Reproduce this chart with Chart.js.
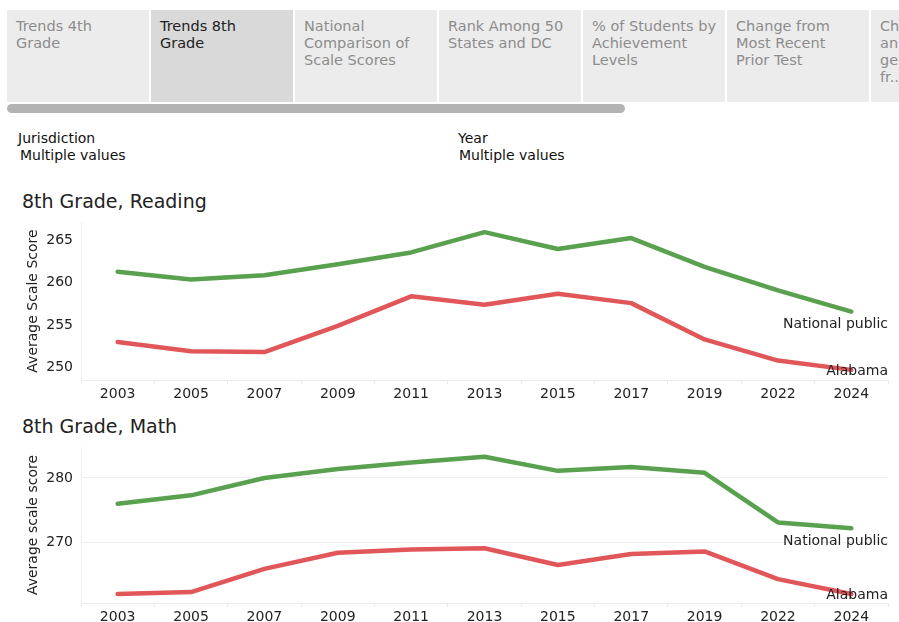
<!DOCTYPE html>
<html>
<head>
<meta charset="utf-8">
<script src="https://cdn.jsdelivr.net/npm/chart.js@4"></script>
<style>
  body { margin: 0; width: 899px; height: 622px; overflow: hidden; background: #fff; font-family: "DejaVu Sans", sans-serif; position: relative; }
  .tab { position: absolute; top: 10px; height: 92px; width: 142px; background: #ececec; color: #8c8c8c; font-size: 14.5px; line-height: 17px; padding: 8px 0 0 9px; box-sizing: border-box; overflow: hidden; }
  .tab.sel { background: #d9d9d9; color: #222; }
  .bar { position: absolute; left: 7px; top: 104px; width: 618px; height: 9px; background: #b3b3b3; border-radius: 5px; }
  .flt { position: absolute; font-size: 14px; line-height: 17px; color: #111; }
  .ttl { position: absolute; left: 22px; font-size: 19px; line-height: 22px; color: #222; }
  canvas { position: absolute; left: 0; }
</style>
</head>
<body>
<div class="tab" style="left:7px">Trends 4th<br>Grade</div>
<div class="tab sel" style="left:151px">Trends 8th<br>Grade</div>
<div class="tab" style="left:295px">National<br>Comparison of<br>Scale Scores</div>
<div class="tab" style="left:439px">Rank Among 50<br>States and DC</div>
<div class="tab" style="left:583px">% of Students by<br>Achievement<br>Levels</div>
<div class="tab" style="left:727px">Change from<br>Most Recent<br>Prior Test</div>
<div class="tab" style="left:871px; width:29px">Ch<br>an<br>ge<br>fr..</div>
<div class="bar"></div>

<div class="flt" style="left:18px; top:130px">Jurisdiction</div>
<div class="flt" style="left:20px; top:147px">Multiple values</div>
<div class="flt" style="left:458px; top:130px">Year</div>
<div class="flt" style="left:459px; top:147px">Multiple values</div>

<div class="ttl" style="top:190px">8th Grade, Reading</div>
<canvas id="readChart" style="top:212px" width="899" height="195"></canvas>
<div class="ttl" style="top:415px">8th Grade, Math</div>
<canvas id="mathChart" style="top:437px" width="899" height="193"></canvas>

<script>
// Datos
const years = ["2003", "2005", "2007", "2009", "2011", "2013", "2015", "2017", "2019", "2022", "2024"];
const readNational = [261.3, 260.4, 260.9, 262.2, 263.6, 266.0, 264.0, 265.3, 261.9, 259.1, 256.6];
const readAlabama = [253.0, 251.9, 251.8, 254.9, 258.4, 257.4, 258.7, 257.6, 253.3, 250.8, 249.7];
const mathNational = [276.0, 277.3, 280.0, 281.4, 282.4, 283.3, 281.1, 281.7, 280.8, 273.1, 272.2];
const mathAlabama = [262.0, 262.3, 265.9, 268.4, 268.9, 269.1, 266.5, 268.2, 268.6, 264.3, 262.0];
const seriesNames = ["National public", "Alabama"];
const seriesColors = ["#59a14f", "#e15759"];
const labelOffsets = [13, 1];

Chart.defaults.font.family = "'DejaVu Sans', sans-serif";
Chart.defaults.color = "#222";

// Etiquetas al final de cada linea
const endLabels = {
  id: 'endLabels',
  afterDatasetsDraw(chart) {
    const c = chart.ctx;
    c.save();
    c.font = "14px 'DejaVu Sans', sans-serif";
    c.fillStyle = "#222";
    c.textAlign = "right";
    c.textBaseline = "middle";
    chart.data.datasets.forEach((ds, i) => {
      const pts = chart.getDatasetMeta(i).data;
      const p = pts[pts.length - 1];
      c.fillText(ds.label, chart.chartArea.right, p.y + labelOffsets[i]);
    });
    c.restore();
  }
};

function makeChart(id, nat, ala, yMin, yMax, step, yTitle, showGrid) {
  return new Chart(document.getElementById(id), {
    type: 'line',
    data: {
      labels: years,
      datasets: [
        { label: seriesNames[0], data: nat, borderColor: seriesColors[0], borderWidth: 4.5 },
        { label: seriesNames[1], data: ala, borderColor: seriesColors[1], borderWidth: 4.5 }
      ]
    },
    options: {
      responsive: false,
      animation: false,
      elements: { point: { radius: 0 }, line: { tension: 0, borderCapStyle: 'round', borderJoinStyle: 'round' } },
      layout: { padding: { top: 10, right: 11, left: 0, bottom: 0 } },
      plugins: { legend: { display: false }, tooltip: { enabled: false } },
      scales: {
        x: {
          offset: true,
          grid: { offset: true, drawOnChartArea: false, drawTicks: true, tickLength: 4, color: '#e8e8e8' },
          border: { color: '#ececec' },
          ticks: { padding: 2, font: { size: 14 }, color: '#222', maxRotation: 0 },
          afterFit(s) { s.height = 27; }
        },
        y: {
          min: yMin,
          max: yMax,
          grid: { display: showGrid, drawTicks: false, color: '#efefef' },
          border: { color: '#f0f0f0' },
          ticks: { stepSize: step, includeBounds: false, padding: 8, font: { size: 14 }, color: '#222' },
          title: { display: true, text: yTitle, font: { size: 14 }, color: '#222', padding: { top: 25, bottom: 0 } },
          afterFit(s) { s.width = 81; s.paddingTop = 0; s.paddingBottom = 0; }
        }
      }
    },
    plugins: [endLabels]
  });
}

makeChart('readChart', readNational, readAlabama, 248.5, 267.2, 5, 'Average Scale Score', false);
makeChart('mathChart', mathNational, mathAlabama, 260.6, 284.8, 10, 'Average scale score', true);
</script>
</body>
</html>
